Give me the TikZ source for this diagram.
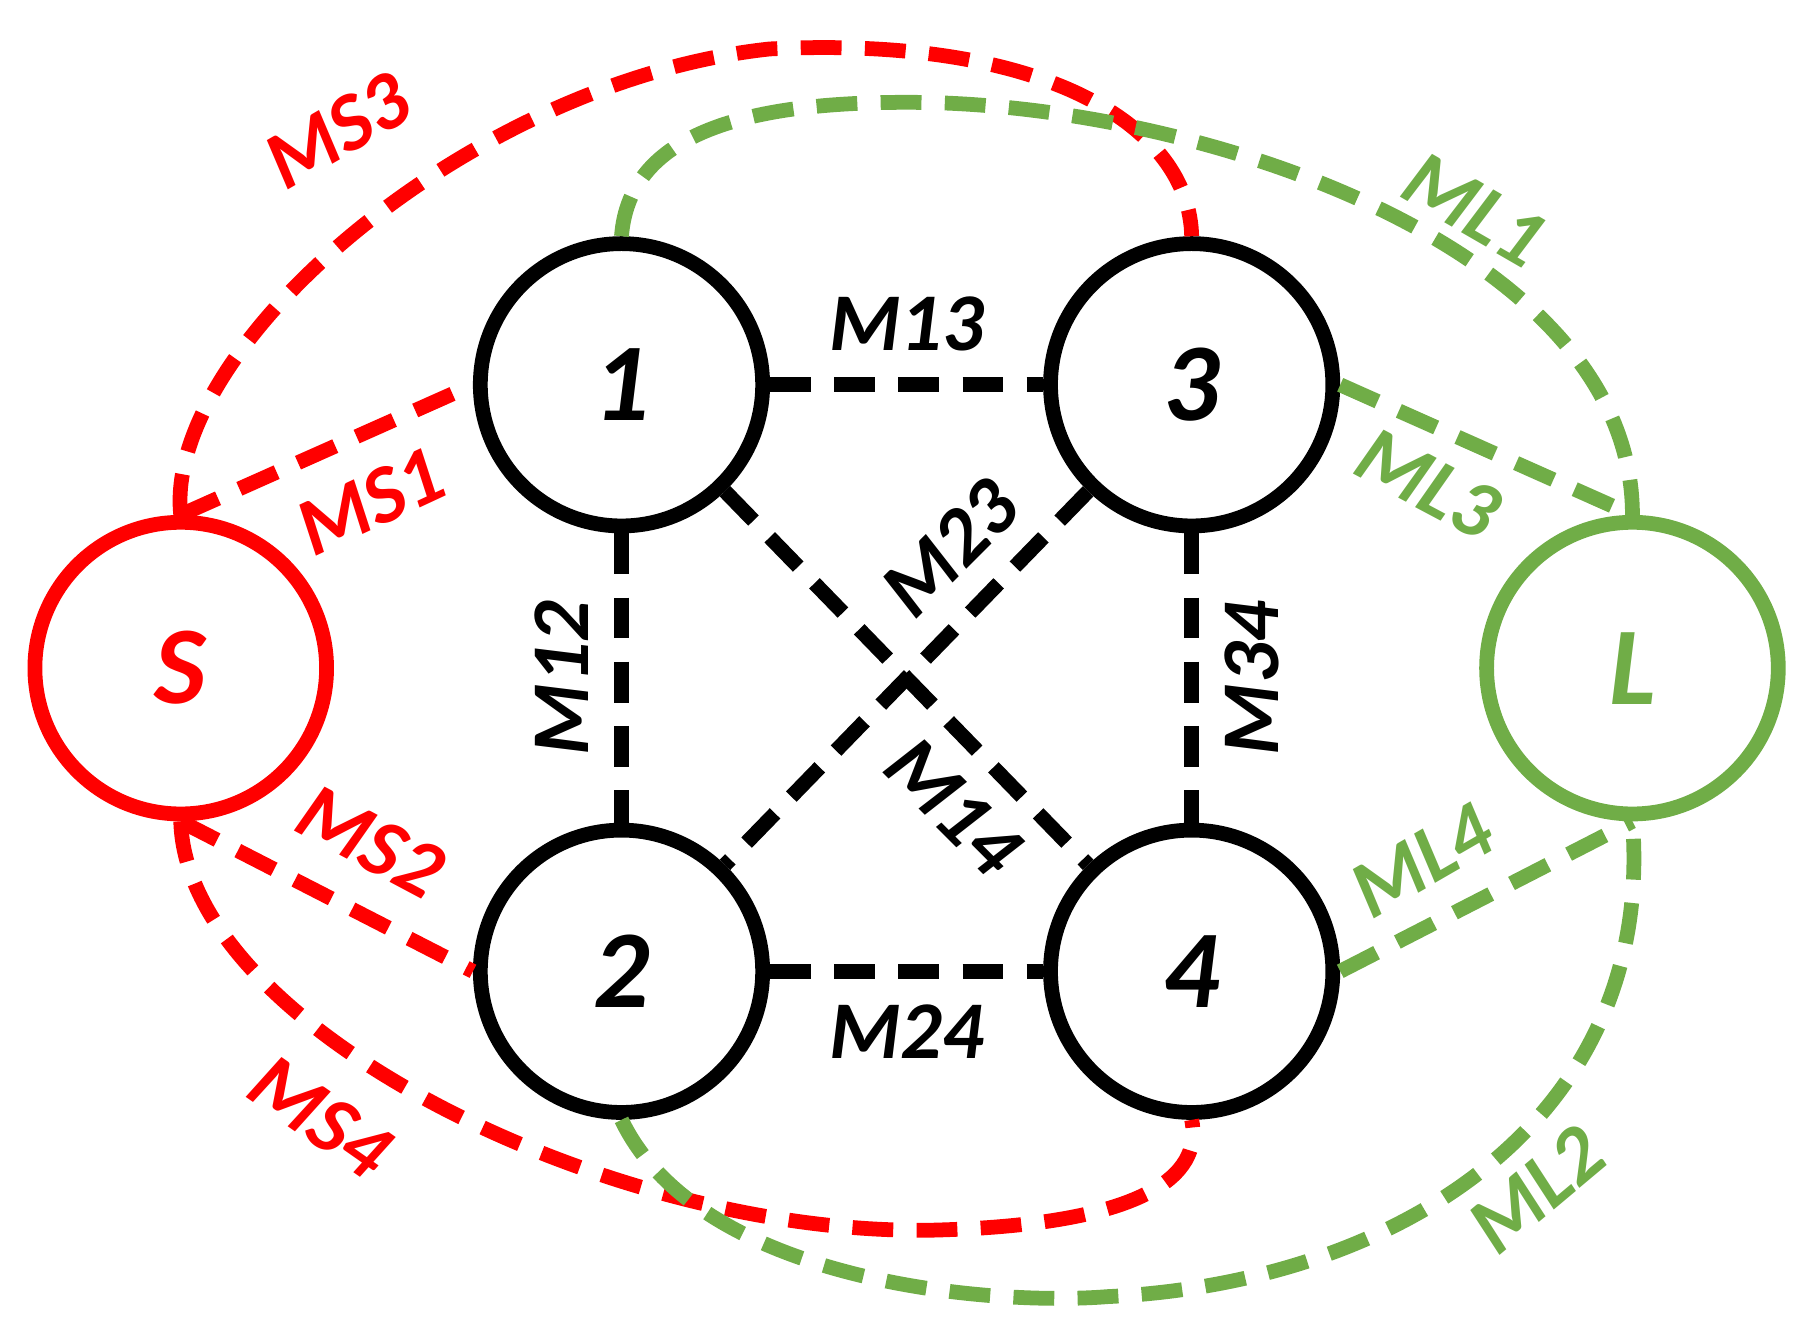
\documentclass[tikz,border=0pt]{standalone}
\usepackage{fontspec}
\setmainfont{Carlito}
\begin{document}
\begin{tikzpicture}[x=0.01cm,y=-0.01cm,
  nd/.style={circle,draw,line width=3.6pt,minimum size=2.42cm,inner sep=0pt,font=\fontsize{27}{27}\selectfont\bfseries\itshape},
  lk/.style={line width=3.6pt,dash pattern=on 0.35cm off 0.2cm},
  lb/.style={font=\fontsize{20}{20}\selectfont\bfseries\itshape},
  red0/.style={color={rgb,255:red,255;green,0;blue,0}},
  grn0/.style={color={rgb,255:red,112;green,173;blue,71}}]
\useasboundingbox (0,0) rectangle (1560,1140);
\node[nd] (n1) at (533,330) {1};
\node[nd] (n3) at (1022,330) {3};
\node[nd] (n2) at (533,833) {2};
\node[nd] (n4) at (1022,833) {4};
\node[nd,red0,minimum size=2.5cm] (S) at (155,573) {S};
\node[nd,grn0,minimum size=2.5cm] (L) at (1400,573) {L};
% black links
\draw[lk] (n1) -- node[lb,above=3pt]{M13} (n3);
\draw[lk] (n2) -- node[lb,below=3pt]{M24} (n4);
\draw[lk] (n1) -- node[lb,rotate=90,above=3pt]{M12} (n2);
\draw[lk] (n3) -- node[lb,rotate=90,below=3pt]{M34} (n4);
\draw[lk] (n1) -- (n4);
\draw[lk] (n3) -- (n2);
\node[lb,rotate=-45] (l14) at (818,692) {M14};
\node[lb,rotate=45] (l23) at (815,470) {M23};
% red links
\draw[lk,red0] (S.north) -- (n1.west);
\draw[lk,red0] (S.south) -- (n2.west);
\node[lb,red0,rotate=25] (ms1) at (318,430) {MS1};
\node[lb,red0,rotate=-28] (ms2) at (318,722) {MS2};
\draw[lk,red0] (S.north) .. controls (140,300) and (400,70) .. (660,42) .. controls (900,30) and (1020,110) .. (n3.north);
\draw[lk,red0] (S.south) .. controls (160,880) and (520,1060) .. (800,1055) .. controls (1000,1050) and (1030,1000) .. (n4.south);
\node[lb,red0,rotate=30] (ms3) at (290,112) {MS3};
\node[lb,red0,rotate=-35] (ms4) at (275,958) {MS4};
% green links
\draw[lk,grn0] (n3.east) -- (L.north);
\draw[lk,grn0] (n4.east) -- (L.south);
\node[lb,grn0,rotate=-28] (ml3) at (1225,415) {ML3};
\node[lb,grn0,rotate=30] (ml4) at (1220,738) {ML4};
\draw[lk,grn0] (n1.north) .. controls (540,110) and (650,85) .. (800,88) .. controls (1050,95) and (1400,220) .. (L.north);
\draw[lk,grn0] (n2.south) .. controls (600,1100) and (850,1120) .. (950,1112) .. controls (1200,1100) and (1420,960) .. (L.south);
\node[lb,grn0,rotate=-30] (ml1) at (1265,180) {ML1};
\node[lb,grn0,rotate=40] (ml2) at (1318,1020) {ML2};
\end{tikzpicture}
\end{document}
